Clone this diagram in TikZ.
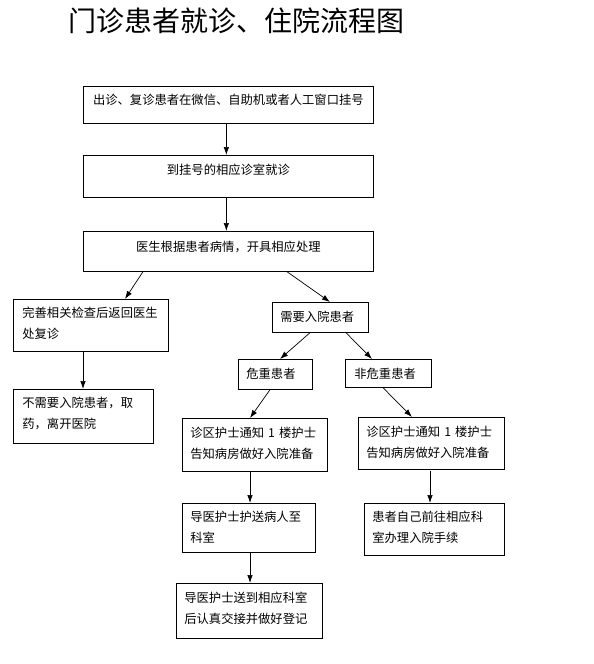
\documentclass[tikz,border=0pt]{standalone}
\usepackage{fontspec}
\setmainfont{Noto Sans CJK SC}
\usetikzlibrary{arrows.meta}
\begin{document}
\begin{tikzpicture}[x=1pt,y=-1pt,
  box/.style={draw, line width=0.7pt, anchor=north west, inner ysep=0pt, inner xsep=8pt, align=left, font=\fontsize{12.3}{21}\selectfont},
  flow/.style={draw, line width=0.7pt, -{Latex[length=8pt,width=5.5pt]}}]
\useasboundingbox (0,0) rectangle (594,664);
\node[font=\fontsize{28}{28}\selectfont] (title) at (236,21) {门诊患者就诊、住院流程图};
\node[box, align=center, text width=274pt, text height=18.5pt, text depth=18.5pt] (reg) at (83,86) {出诊、复诊患者在微信、自助机或者人工窗口挂号};
\node[box, align=center, text width=274pt, text height=19.5pt, text depth=22.5pt] (room) at (83,155) {到挂号的相应诊室就诊};
\node[box, align=center, text width=274pt, text height=20.5pt, text depth=19.5pt] (doctor) at (83,231) {医生根据患者病情，开具相应处理};
\node[box, inner xsep=9pt, text width=137pt, text height=18.5pt, text depth=33.5pt] (check) at (13,299) {完善相关检查后返回医生\\处复诊};
\node[box, inner xsep=9pt, text width=122pt, text height=18.5pt, text depth=35.5pt] (leave) at (13,389) {不需要入院患者，取\\药，离开医院};
\node[box, text width=80pt, text height=19.5pt, text depth=10.5pt] (admit) at (272,302) {需要入院患者};
\node[box, text width=58pt, text height=19.5pt, text depth=10.5pt] (severe) at (238,359) {危重患者};
\node[box, inner xsep=9pt, text width=68pt, text height=19.5pt, text depth=8.5pt] (mild) at (345,359) {非危重患者};
\node[box, text width=129pt, text height=19.5pt, text depth=33.5pt] (notifyA) at (182,418) {诊区护士通知~1~楼护士\\告知病房做好入院准备};
\node[box, text width=130pt, text height=19.5pt, text depth=32.5pt] (notifyB) at (358,417) {诊区护士通知~1~楼护士\\告知病房做好入院准备};
\node[box, text width=117pt, text height=18.5pt, text depth=30.5pt] (escort) at (182,503) {导医护士护送病人至\\科室};
\node[box, text width=124pt, text height=18.5pt, text depth=33.5pt] (self) at (364,503) {患者自己前往相应科\\室办理入院手续};
\node[box, text width=130pt, text height=19.5pt, text depth=35.5pt] (handover) at (176,583) {导医护士送到相应科室\\后认真交接并做好登记};
\path[flow] ([xshift=-2pt]reg.south) -- ([xshift=-2pt]room.north);
\path[flow] ([xshift=-2pt]room.south) -- ([xshift=-2pt]doctor.north);
\path[flow] ([xshift=60pt]doctor.south west) -- ([xshift=112pt]check.north west);
\path[flow] ([xshift=204pt]doctor.south west) -- ([xshift=58pt]admit.north west);
\path[flow] ([xshift=70pt]check.south west) -- ([xshift=70pt]leave.north west);
\path[flow] ([xshift=38pt]admit.south west) -- ([xshift=42pt]severe.north west);
\path[flow] ([xshift=74pt]admit.south west) -- ([xshift=27pt]mild.north west);
\path[flow] ([xshift=32pt]severe.south west) -- ([xshift=68pt]notifyA.north west);
\path[flow] ([xshift=38pt]mild.south west) -- ([xshift=54pt]notifyB.north west);
\path[flow] ([xshift=68pt]notifyA.south west) -- ([xshift=68pt]escort.north west);
\path[flow] ([xshift=72pt,yshift=-1pt]notifyB.south west) -- ([xshift=66pt]self.north west);
\path[flow] ([xshift=68pt]escort.south west) -- ([xshift=74pt]handover.north west);
\end{tikzpicture}
\end{document}
